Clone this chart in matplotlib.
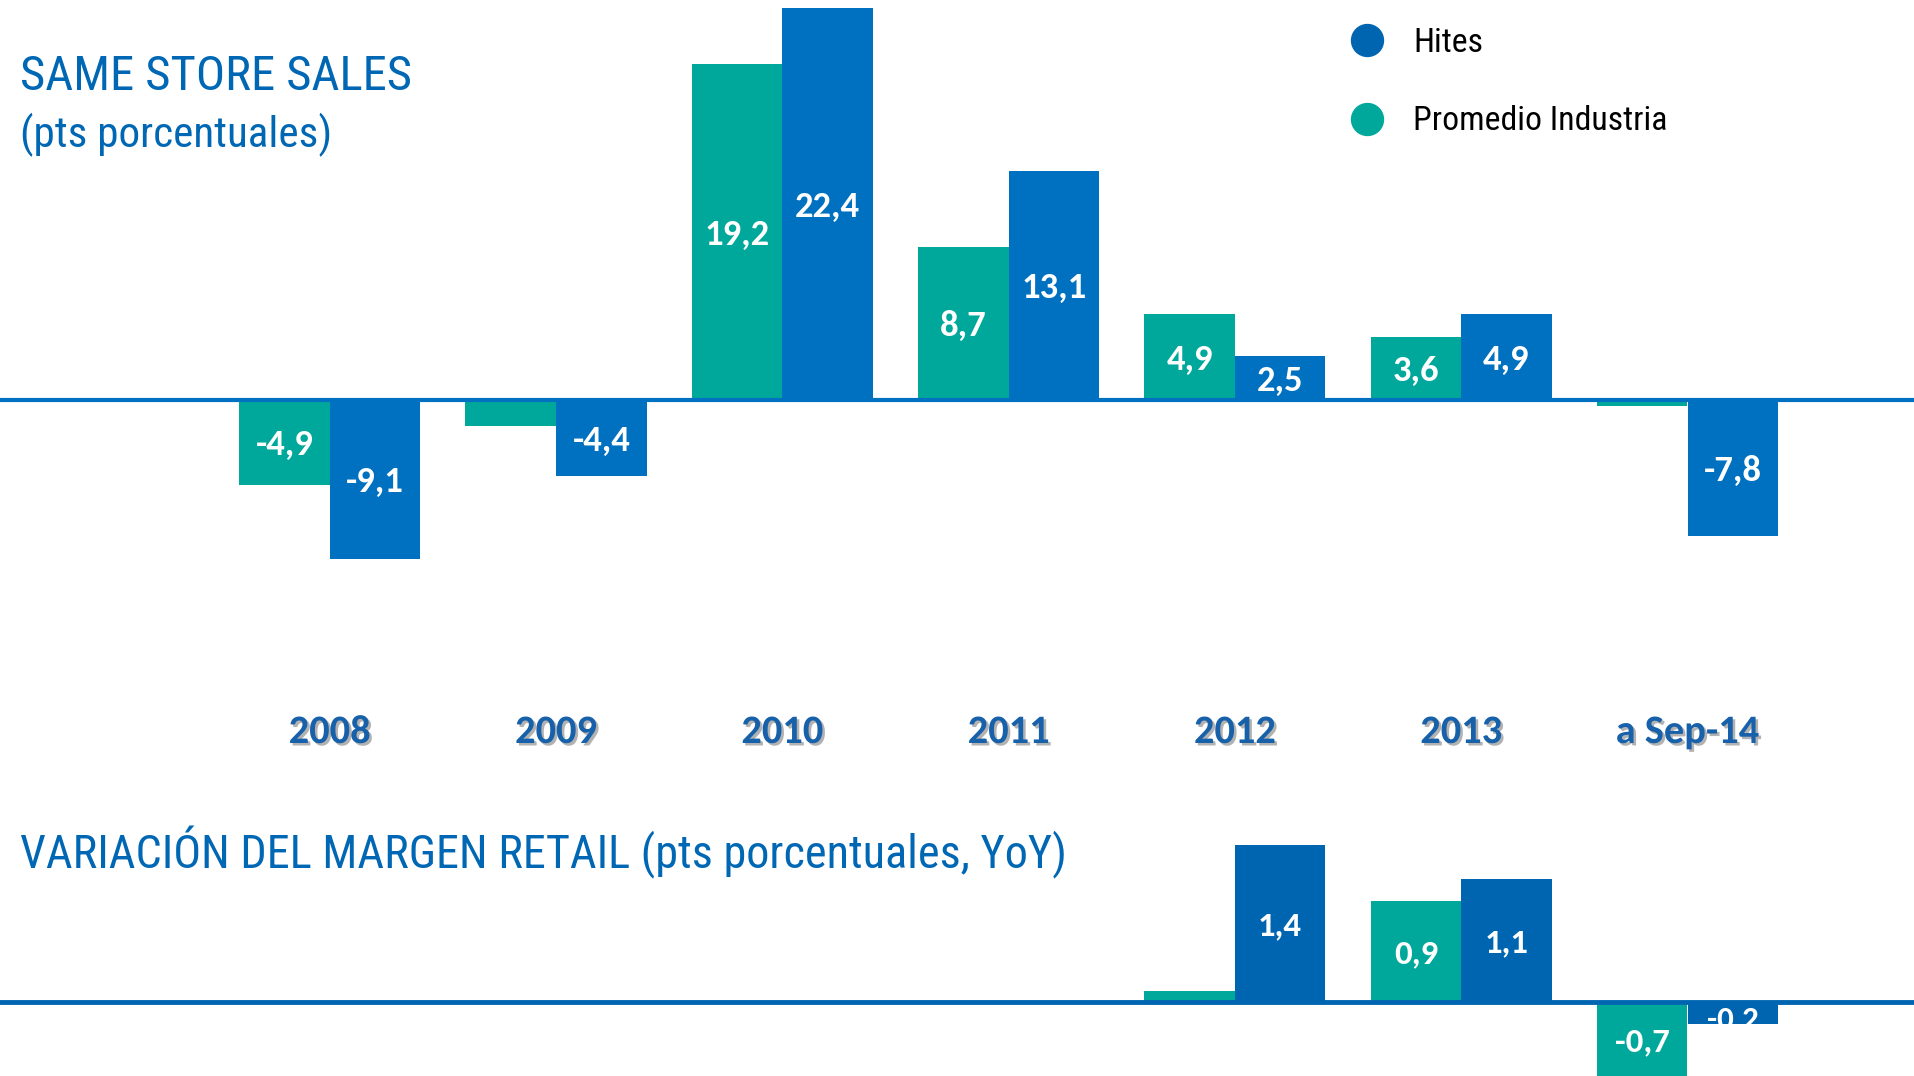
import matplotlib
matplotlib.use('Agg')
import matplotlib.pyplot as plt
from matplotlib import font_manager as fm
from matplotlib.lines import Line2D
import matplotlib.patheffects as pe
import numpy as np

# ---------------- data ----------------
categories = ['2008', '2009', '2010', '2011', '2012', '2013', 'a Sep-14']
sss_industria = [-4.9, -1.5, 19.2, 8.7, 4.9, 3.6, -0.4]
sss_hites = [-9.1, -4.4, 22.4, 13.1, 2.5, 4.9, -7.8]

margin_categories = ['2012', '2013', 'a Sep-14']
margin_industria = [0.1, 0.9, -0.7]
margin_hites = [1.4, 1.1, -0.2]

series_names = ['Hites', 'Promedio Industria']
title_top = ['SAME STORE SALES', '(pts porcentuales)']
title_bottom = 'VARIACIÓN DEL MARGEN RETAIL (pts porcentuales, YoY)'

# ---------------- style ----------------
W, H = 1915, 1076
C_GREEN = '#00A89B'
C_BLUE = '#0070C0'
C_BLUE2 = '#0065B1'
C_TITLE = '#0067B4'
C_YEAR = '#1760AA'

names = {f.name for f in fm.fontManager.ttflist}

def pick(prefs):
    for p in prefs:
        if p in names:
            return p
    return 'DejaVu Sans'

NARROW = pick(['Liberation Sans Narrow', 'Arial Narrow', 'Roboto Condensed',
               'Pragati Narrow', 'Archivo Narrow', 'Liberation Sans'])
BOLDF = pick(['Carlito', 'Lato', 'Open Sans'])

fig = plt.figure(figsize=(W / 100, H / 100), dpi=100)
fig.patch.set_facecolor('white')
renderer = fig.canvas.get_renderer()

def fit(t, width_px):
    for _ in range(3):
        w = t.get_window_extent(renderer).width
        t.set_fontsize(t.get_fontsize() * width_px / w)
    return t.get_fontsize()

def fitted_size(s, width_px, **kw):
    tmp = fig.text(0, 0, s, fontsize=20, **kw)
    fs = fit(tmp, width_px)
    tmp.remove()
    return fs

LBL_KW = dict(family=[BOLDF, 'DejaVu Sans'], fontweight='bold')
lbl_fs = fitted_size('22,4', 65, **LBL_KW)
year_fs = fitted_size('2008', 82, **LBL_KW)

def px_axes(top_px, bottom_px):
    return fig.add_axes([0, 1 - bottom_px / H, 1, (bottom_px - top_px) / H])

x = np.arange(len(categories))
bw = 0.4
XL = (-329.7 / 226.3, (W - 329.7) / 226.3)

def fmt(v):
    return f'{v:.1f}'.replace('.', ',')

# ---------------- top chart ----------------
top_px, bot_px, base_px, scale = 0, 780, 399.5, 17.48
ax = px_axes(top_px, bot_px)
ax.set_xlim(*XL)
ax.set_ylim(-(bot_px - base_px) / scale, (base_px - top_px) / scale)
ax.axis('off')

b_ind = ax.bar(x - bw / 2, sss_industria, width=bw, color=C_GREEN, zorder=2)
b_hit = ax.bar(x + bw / 2, sss_hites, width=bw, color=C_BLUE, zorder=2)
ax.axhline(0, color=C_BLUE, lw=3, zorder=3)

for bars, vals in ((b_ind, sss_industria), (b_hit, sss_hites)):
    for r, v in zip(bars, vals):
        if abs(v) < 2:
            continue
        ax.text(r.get_x() + r.get_width() / 2, v / 2, fmt(v), ha='center',
                va='center_baseline', color='white', fontsize=lbl_fs,
                zorder=4, **LBL_KW)

year_y = -(743 - base_px) / scale
for xi, c in zip(x, categories):
    ax.text(xi, year_y, c, ha='center', va='baseline', color=C_YEAR,
            fontsize=year_fs, **LBL_KW,
            path_effects=[pe.withSimplePatchShadow(offset=(1.8, -1.8),
                                                   shadow_rgbFace='#666666',
                                                   alpha=0.5)])

# ---------------- bottom chart ----------------
top_px2, bot_px2, base_px2, scale2 = 780, H, 1002, 112
ax2 = px_axes(top_px2, bot_px2)
ax2.set_xlim(*XL)
ax2.set_ylim(-(bot_px2 - base_px2) / scale2, (base_px2 - top_px2) / scale2)
ax2.axis('off')
x2 = np.array([categories.index(c) for c in margin_categories])
m_ind = ax2.bar(x2 - bw / 2, margin_industria, width=bw, color=C_GREEN, zorder=2)
m_hit = ax2.bar(x2 + bw / 2, margin_hites, width=bw, color=C_BLUE2, zorder=2)
ax2.axhline(0, color=C_BLUE2, lw=3.5, zorder=3)
ylo = ax2.get_ylim()[0]
for bars, vals in ((m_ind, margin_industria), (m_hit, margin_hites)):
    for r, v in zip(bars, vals):
        if abs(v) < 0.15:
            continue
        xc = r.get_x() + r.get_width() / 2
        if abs(v) * scale2 < 30:
            # short bar: hang the label just under the zero line
            ax2.annotate(fmt(v), (xc, 0), xytext=(0, -2.5 if v < 0 else 2.5),
                         textcoords='offset points', ha='center',
                         va='top' if v < 0 else 'bottom', color='white',
                         fontsize=lbl_fs * 0.9, zorder=4, **LBL_KW)
        else:
            ax2.text(xc, max(v, ylo) / 2, fmt(v), ha='center',
                     va='center_baseline', color='white', fontsize=lbl_fs * 0.95,
                     zorder=4, **LBL_KW)

# ---------------- titles ----------------
TKW = dict(color=C_TITLE, family=[NARROW, 'DejaVu Sans'], va='baseline', ha='left')
t1 = fig.text(20 / W, 1 - 90 / H, title_top[0], fontsize=30, **TKW)
fit(t1, 392)
t2 = fig.text(20 / W, 1 - 147 / H, title_top[1], fontsize=30, **TKW)
fit(t2, 312)
t3 = fig.text(20 / W, 1 - 868 / H, title_bottom, fontsize=30, **TKW)
fit(t3, 1045)

# ---------------- legend ----------------
lfs = fitted_size(series_names[1], 255, family=[NARROW, 'DejaVu Sans'])
handles = [Line2D([], [], ls='', marker='o', markersize=23, color=C_BLUE2),
           Line2D([], [], ls='', marker='o', markersize=23, color=C_GREEN)]
lfs_px = lfs / 72 * 100
hl = 1.0
leg = fig.legend(handles, series_names, loc='upper left', frameon=False,
                 prop={'family': [NARROW, 'DejaVu Sans'], 'size': lfs},
                 handlelength=hl, handletextpad=(46 - hl * lfs_px / 2) / lfs_px,
                 labelspacing=0.9 + 16 / lfs_px, borderpad=0, borderaxespad=0,
                 bbox_to_anchor=((1367 - hl * lfs_px / 2) / W, 1 - 27 / H))
for t in leg.get_texts():
    t.set_color('black')

fig.savefig('out.png', dpi=100, facecolor='white')
